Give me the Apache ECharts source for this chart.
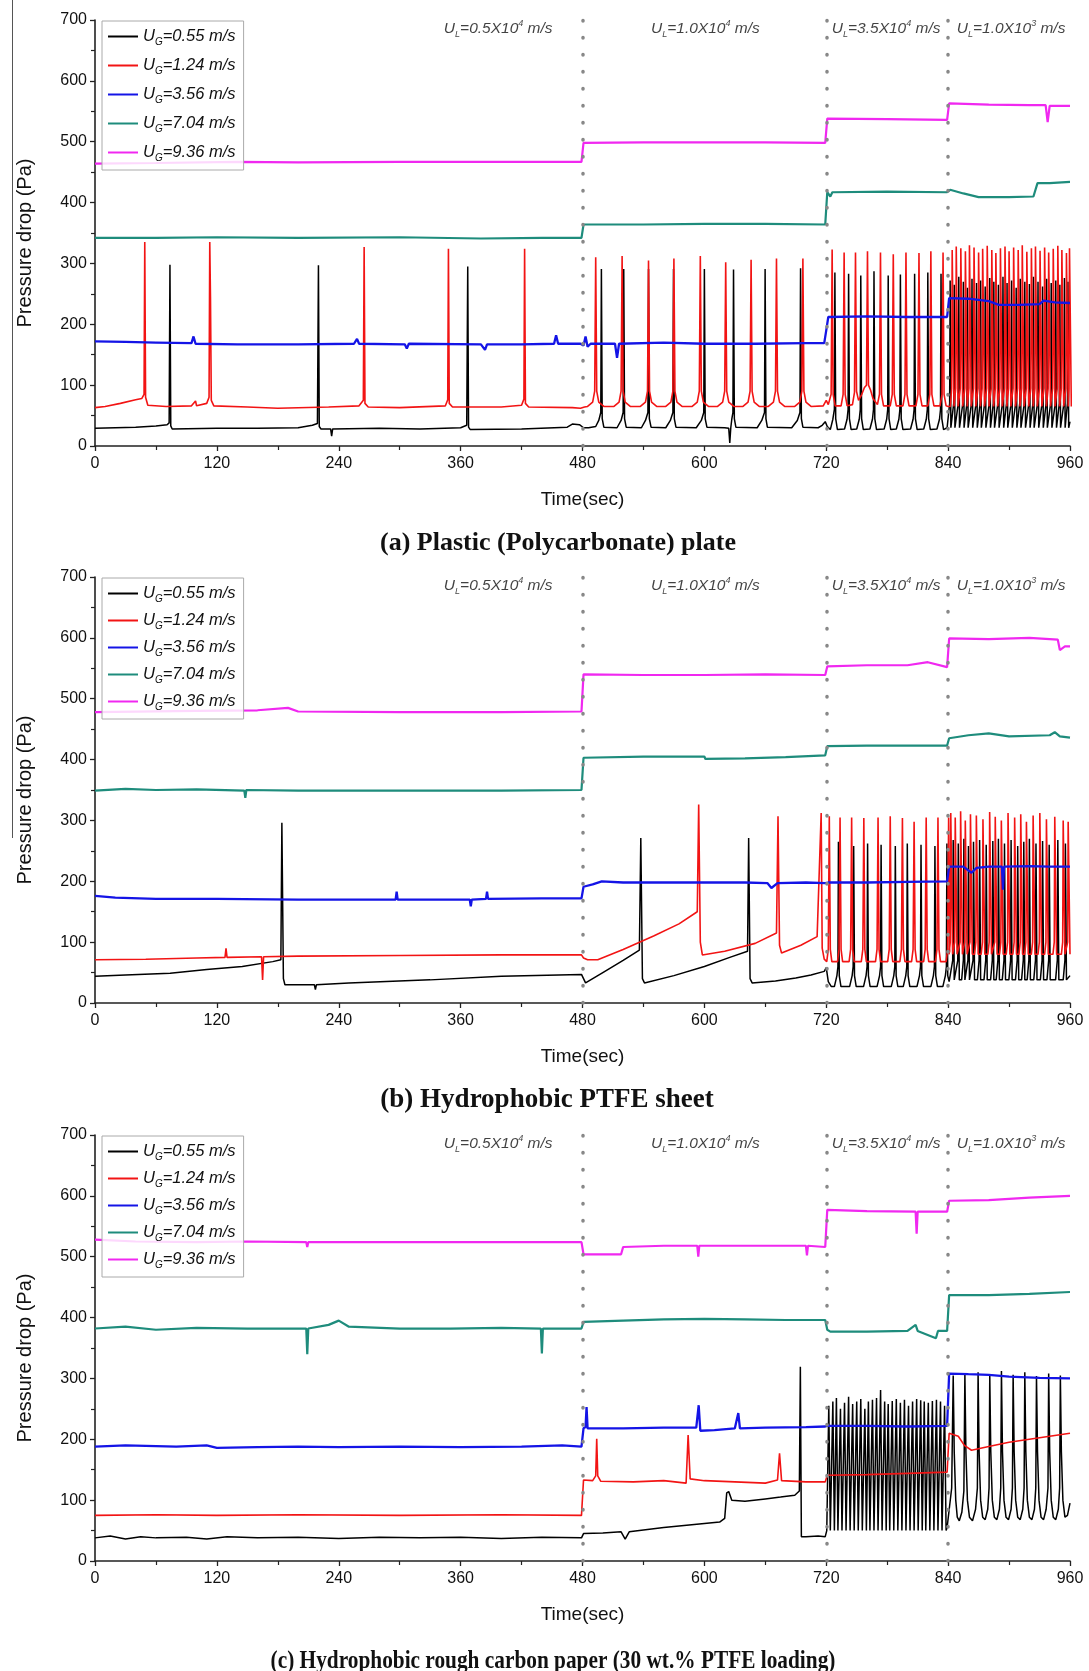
<!DOCTYPE html>
<html><head><meta charset="utf-8">
<script src="https://cdn.jsdelivr.net/npm/echarts/dist/echarts.min.js"></script>
<style>html,body{margin:0;padding:0;background:#fff}#c{width:1089px;height:1671px}</style>
</head><body><div id="c"></div><script>
// ---------------- DATA ----------------
const seriesNames = ['UG=0.55 m/s','UG=1.24 m/s','UG=3.56 m/s','UG=7.04 m/s','UG=9.36 m/s'];
const liquidSwitchTimes = [480, 720, 840];
const liquidMantissa = ['0.5','1.0','3.5','1.0'];
const liquidExponent = ['4','4','4','3'];
const panelTitles = ['(a) Plastic (Polycarbonate) plate','(b) Hydrophobic PTFE sheet','(c) Hydrophobic rough carbon paper (30 wt.% PTFE loading)'];

// ---- Panel (a) ----
const aBlackPts = [[0,29],[20,30],[40,31],[60,33],[71,35],[73,38],[73.8,298],[74.6,33],[76,28],[120,29],[160,29],[200,30],[214,34],[219,37],[220,297],[220.8,32],[222.5,28],[232,28],[233,16],[234,28],[280,29],[320,28],[360,30],[366,34],[367,295],[367.8,31],[369.5,27],[420,28],[465,31],[470,36],[477,35],[481,30],
[486,30],[493,32],[496,42],[498,55],[498.6,291],[499.4,45],[501,31],
[514,30],[518,42],[520,55],[520.6,291],[521.4,45],[523,31],
[538,30],[542,42],[544.4,55],[545,291],[545.8,45],[547.5,31],
[562,30],[566.5,42],[569,55],[569.6,291],[570.4,45],[572,31],
[592,30],[597,42],[599.4,55],[600,291],[600.8,45],[602.5,31],
[620,30],[624,29],[625,5],[626,30],[627,44],[628.1,55],[628.7,290],[629.5,45],[631,31],
[652,30],[656.5,42],[659.2,55],[659.8,291],[660.6,45],[662,31],
[686,30],[691.5,42],[694.1,55],[694.7,292],[695.5,45],[697,31],
[712,30],[716,34],[719,40],[721,32],
[724,27],[726.5,44],[728,60],[728.5,285],[729.3,45],[731,27],
[738,28],[740.5,44],[741.5,60],[742,283],[742.8,45],[744.5,27],
[750,28],[752.5,44],[753.5,60],[754,280],[754.8,45],[756.5,27],
[763,28],[765.5,44],[766.5,60],[767,287],[767.8,45],[769.5,27],
[777,28],[779.5,44],[780.5,60],[781,280],[781.8,45],[783.5,27],
[789,28],[791.5,44],[792.5,60],[793,282],[793.8,45],[795.5,27],
[803,28],[805.5,44],[806.5,60],[807,283],[807.8,45],[809.5,27],
[816,28],[818.5,44],[819.5,60],[820,285],[820.8,45],[822.5,27],
[829,28],[831.5,44],[832.5,60],[833,283],[833.8,45],[835.5,27],[839,30]];
const aBlackTrainT = [842,846,850.5,855,859,863.5,868,872,876.5,881,885,889.5,894,898,902.5,907,911,915.5,920,924,928.5,933,937,941.5,946,950,954.5,958];
const aBlackTrainPk = [272,265,278,270,260,275,268,272,262,276,270,265,278,268,272,260,275,270,266,278,270,262,275,268,272,265,276,270];
const aRedPts = [[0,63],[10,65],[25,70],[40,76],[46,78],[48.3,85],[49,335],[49.8,80],[52,67],[70,65],[95,66],[99,74],[100,66],[110,70],[112.3,80],[113,335],[113.7,245],[114.5,75],[117,66],[150,64],[180,62],[230,64],[260,66],[264.2,75],[265,327],[265.8,70],[269,64],[300,63],[345,66],[347.3,76],[348,324],[348.8,70],[352,64],[400,64],[420,67],[422.3,77],[423,324],[423.8,70],[427,64],[470,63],[478,62],[482,64],
[485,65],[490,72],[492,90],[493,310],[494,90],[496,72],[501,65],
[511,65],[516,72],[518,90],[519,312],[520,90],[522,72],[527,65],
[537,65],[542,72],[544,90],[545,305],[546,90],[548,72],[553,65],
[562,65],[567,72],[569,90],[570,308],[571,90],[573,72],[578,65],
[588,65],[593,72],[595,90],[596,312],[597,90],[599,72],[604,65],
[613,65],[618,72],[620,90],[621,302],[622,90],[624,72],[629,65],
[638,65],[643,72],[645,90],[646,306],[647,90],[649,72],[654,65],
[663,65],[668,72],[670,90],[671,308],[672,90],[674,72],[679,65],
[689,65],[694,72],[696,90],[697,308],[698,90],[700,72],[705,65],
[717,66],[720,75],[722,68],
[722.8,66],[724.8,85],[725.8,323],[726.8,85],[728.8,66],
[734.6,66],[736.6,85],[737.6,318],[738.6,85],[740.6,66],
[745.8,68],[747.8,88],[748.8,318],[749.8,90],[751.8,75],
[755,85],[757.6,96],[759.6,100],[760.6,320],[761.6,100],[763.6,92],[766,78],
[770.4,68],[772.4,85],[773.4,318],[774.4,85],[776.4,66],
[783,66],[785,85],[786,315],[787,85],[789,66],
[795.5,66],[797.5,85],[798.5,318],[799.5,85],[801.5,66],
[808.3,66],[810.3,85],[811.3,317],[812.3,85],[814.3,66],
[820,66],[822,85],[823,320],[824,85],[826,66],
[832,66],[834,85],[835,318],[836,85],[838,66],[840,65]];
const aRedTrainT = [844,848,852.5,857,861,865.5,870,874,878.5,883,887,891.5,896,900,904.5,909,913,917.5,922,926,930.5,935,939,943.5,948,952,956.5,959.5];
const aRedTrainPk = [322,328,325,320,330,326,318,324,329,322,317,325,328,320,326,322,330,319,325,328,321,326,318,324,329,322,317,325];
const aBlue = [[0,172],[30,171],[60,170],[95,169],[97,180],[99,168],[140,167],[200,167],[255,168],[258,176],[260,168],[305,167],[307,160],[309,168],[380,167],[384,158],[386,167],[420,167],[452,168],[454,182],[456,168],[478,168],[481,165],[483,180],[485,163],[488,168],[512,168],[514,145],[516,168],[560,170],[600,168],[650,168],[700,169],[718,169],[720,190],[722,212],[760,213],[800,212],[839,212],[841,243],[860,242],[880,238],[890,232],[910,232],[930,233],[934,239],[945,236],[960,235]];
const aTeal = [[0,342],[60,342],[120,343],[200,342],[300,343],[380,341],[440,342],[479,342],[481,364],[540,364],[600,365],[660,365],[719,364],[721,417],[724,410],[726,417],[780,418],[839,417],[842,421],[855,415],[870,409],[900,409],[924,410],[928,432],[940,432],[960,434]];
const aMagenta = [[0,464],[60,465],[140,467],[200,466],[300,467],[400,467],[479,467],[481,498],[540,499],[600,499],[660,499],[719,498],[721,538],[780,537],[839,536],[841,563],[880,561],[920,560],[936,560],[938,532],[940,559],[960,559]];

// ---- Panel (b) ----
const bBlackPts = [[0,44],[30,46],[74,49],[110,55],[145,60],[175,68],[183,71],[184,296],[185.5,40],[187,30],[216,30],[217,22],[218,30],[250,33],[330,38],[400,44],[479,47],[481,40],[483,33],[500,50],[520,70],[536,87],[537.4,271],[539,40],[541,33],[570,45],[600,60],[625,75],[642.5,85],[643.6,271],[645,40],[647,33],[670,36],[690,41],[705,46],[718,52],[720,58],[722,35],[725,27],
[728,27],[730.5,45],[731.5,60],[732,265],[732.8,45],[734.5,27],
[743,27],[745.5,45],[746.5,60],[747,258],[747.8,45],[749.5,27],
[756.7,27],[759.2,45],[760.2,60],[760.7,262],[761.5,45],[763.2,27],
[770,27],[772.5,45],[773.5,60],[774,260],[774.8,45],[776.5,27],
[784,27],[786.5,45],[787.5,60],[788,258],[788.8,45],[790.5,27],
[795.8,27],[798.3,45],[799.3,60],[799.8,262],[800.6,45],[802.3,27],
[809.3,27],[811.8,45],[812.8,60],[813.3,260],[814.1,45],[815.8,27],
[823,27],[825.5,45],[826.5,60],[827,258],[827.8,45],[829.5,27],
[834.8,27],[837.3,45],[838.3,60],[838.8,262],[839.6,45],[841,35]];
const bBlackTrainT = [845,850,855.5,860,865,871,877.5,884,889.5,895.5,902,908.5,914.5,920,926.5,933,939.5,948,955.5];
const bBlackTrainPk = [268,262,270,258,265,268,260,266,270,262,268,258,265,270,262,266,260,268,262];
const bRedPts = [[0,71],[50,72],[100,74],[128,75],[129,90],[130,75],[164,76],[165,38],[166,76],[200,77],[300,78],[400,79],[479,79],[481,74],[485,71],[495,71],[520,88],[550,110],[575,130],[593,150],[594.4,326],[596,100],[598,79],[620,85],[650,98],[671,115],[672.5,307],[674,95],[676,82],[695,95],[711,109],[715,312],[716,90],[718,72],[720.5,68],
[722,88],[723,307],[724,88],[725.5,68],
[731.1,68],[732.6,88],[733.6,305],[734.6,88],[736.1,68],
[742.5,68],[744,88],[745,305],[746,88],[747.5,68],
[754.5,68],[756,88],[757,304],[758,88],[759.5,68],
[768.5,68],[770,88],[771,305],[772,88],[773.5,68],
[780.5,68],[782,88],[783,307],[784,88],[785.5,68],
[792.5,68],[794,88],[795,304],[796,88],[797.5,68],
[804,68],[805.5,88],[806.5,298],[807.5,88],[809,68],
[815.9,68],[817.4,88],[818.4,305],[819.4,88],[820.9,68],
[827.5,68],[829,88],[830,305],[831,88],[832.5,68],
[838,68],[839.5,88],[840.5,305],[841.5,85]];
const bRedTrainT = [842.6,847,852.3,856.9,862,867.8,874.3,880.9,886.4,892.4,899,905.5,911.5,917.1,923.7,930.3,936.8,945,953.3,958.2];
const bRedTrainPk = [312,305,315,300,310,308,302,314,306,300,312,305,310,298,308,312,302,306,300,298];
const bBlue = [[0,176],[20,173],[60,171],[120,171],[200,170],[296,170],[297,183],[298,170],[369,170],[370,159],[371,170],[385,171],[386,183],[387,171],[440,172],[479,172],[481,191],[490,195],[499,200],[520,198],[560,198],[600,198],[640,198],[662,197],[666,189],[672,197],[700,198],[719,197],[722,198],[760,198],[800,199],[839,200],[841,224],[855,224],[863,214],[868,222],[880,224],[893,224],[894,186],[895,224],[920,225],[940,224],[960,224]];
const bTeal = [[0,349],[30,352],[60,350],[100,351],[147,349],[148,337],[149,350],[200,349],[300,349],[400,349],[479,350],[481,403],[540,405],[600,405],[601,401],[640,402],[680,404],[719,407],[721,422],[760,423],[800,423],[839,423],[841,435],[860,440],[880,443],[900,438],[940,440],[945,445],[950,438],[960,436]];
const bMagenta = [[0,478],[100,480],[160,481],[190,485],[200,479],[300,478],[400,478],[479,479],[481,540],[540,539],[600,539],[660,540],[719,539],[721,553],[760,555],[800,555],[820,560],[839,552],[841,599],[880,598],[920,600],[948,597],[950,580],[955,586],[960,586]];

// ---- Panel (c) ----
const cBlackPts = [[0,38],[15,41],[30,36],[45,40],[60,38],[90,39],[110,36],[130,40],[160,38],[200,39],[240,37],[280,39],[320,38],[360,39],[400,37],[440,39],[479,38],[481,45],[500,46],[518,48],[522,36],[526,48],[560,55],[590,60],[615,64],[620,70],[622,112],[624,114],[627,100],[640,98],[660,102],[675,105],[689,108],[693.5,115],[694.5,319],[695.5,40],[700,40],[712,41],[719,40],[720.5,50]];
const cBlackTrainT = [722.5,726.5,730,734,738,742,746,750,754,758,761.5,765.5,769.5,773.5,777.5,781,785,789,793,797,801,805,809,813,816.5,820.5,824.5,828.5,832.5,836.5];
const cBlackTrainPk = [255,262,268,250,260,270,258,262,266,250,262,265,268,281,262,258,263,266,260,265,255,262,266,264,262,260,263,265,262,255];
const cBlackTail = [[839,55],[843.5,120],[845,305],[846,180],[847.5,100],[849,72],[851,66],[853.5,80],[855.5,115],[856.5,308],[857.5,180],[859,100],[861,72],[864,66],[867,85],[868.8,120],[869.5,310],[870.5,180],[872,100],[874,72],[876.5,68],[879,85],[880.3,120],[881,305],[882,180],[883.5,100],[885.5,72],[888,68],[890.5,85],[891.8,120],[892.5,312],[893.5,180],[895,100],[897,72],[899.5,68],[902,85],[903.3,120],[904,306],[905,180],[906.5,100],[908.5,72],[911,68],[913.5,85],[914.8,120],[915.5,310],[916.5,180],[918,100],[920,72],[922.5,68],[925,85],[926.3,120],[927,304],[928,180],[929.5,100],[931.5,72],[934,68],[936.5,85],[938.3,120],[939,308],[940,180],[941.5,100],[943.5,72],[946,68],[948.5,85],[949.8,120],[950.5,305],[951.5,180],[953,100],[955,72],[957.5,75],[960,95]];
const cRed = [[0,75],[60,76],[120,75],[200,76],[300,75],[400,76],[479,75],[481,133],[490,132],[493,140],[494,201],[495,140],[498,131],[530,130],[560,132],[582,128],[584,207],[586,135],[600,132],[630,130],[660,128],[672,133],[674,177],[676,132],[700,130],[719,130],[721,141],[760,142],[800,144],[839,146],[841,210],[850,205],[856,190],[863,182],[880,188],[900,195],[920,200],[940,205],[960,210]];
const cBlue = [[0,188],[30,190],[80,188],[110,190],[120,186],[160,187],[200,188],[240,187],[300,188],[360,187],[420,188],[460,190],[479,188],[481,218],[483,220],[484,253],[485,218],[520,218],[560,219],[592,219],[594.4,256],[596,214],[610,215],[630,218],[633.4,243],[635,218],[660,219],[700,220],[719,221],[721,222],[760,222],[800,221],[839,222],[841,308],[860,307],[880,306],[900,303],[930,301],[960,300]];
const cTeal = [[0,382],[30,385],[60,380],[100,383],[150,382],[208,382],[209,340],[210,382],[230,388],[240,395],[250,385],[300,382],[350,382],[400,383],[439,382],[440,341],[441,382],[479,382],[481,393],[520,395],[560,397],[600,398],[640,397],[680,396],[719,396],[721,380],[724,377],[760,377],[800,378],[808,388],[810,378],[828,366],[830,378],[839,378],[841,437],[880,437],[920,439],[960,442]];
const cMagenta = [[0,528],[40,525],[100,524],[150,525],[208,524],[209,516],[210,524],[300,524],[400,524],[479,524],[481,504],[518,504],[520,516],[560,518],[593,518],[594,500],[595,518],[640,518],[700,518],[701,502],[702,518],[719,516],[721,577],[760,575],[808,574],[809,538],[810,574],[839,574],[841,592],[880,593],[920,597],[960,600]];

// ---------------- BUILD ----------------
function spikeTrain(times, peaks, base, hump, pre, post) {
  const out = [];
  times.forEach((t, i) => {
    out.push([t - pre, base]);
    if (hump !== null) out.push([t - 0.5, hump]);
    out.push([t, peaks[i]]);
    out.push([t + post, base]);
  });
  return out;
}
const panels = [
  [aBlackPts.concat(spikeTrain(aBlackTrainT, aBlackTrainPk, 30, 70, 2.0, 0.7), [[960,40]]),
   aRedPts.concat(spikeTrain(aRedTrainT, aRedTrainPk, 65, 95, 1.8, 1.8)),
   aBlue, aTeal, aMagenta],
  [bBlackPts.concat(spikeTrain(bBlackTrainT, bBlackTrainPk, 38, 70, 2.2, 1.0), [[960,45]]),
   bRedPts.concat(spikeTrain(bRedTrainT, bRedTrainPk, 80, 100, 1.8, 1.8)),
   bBlue, bTeal, bMagenta],
  [cBlackPts.concat(spikeTrain(cBlackTrainT, cBlackTrainPk, 50, null, 1.5, 1.5), cBlackTail),
   cRed, cBlue, cTeal, cMagenta]
];

// ---------------- LAYOUT / STYLE ----------------
const colors = ['#000000', '#f21414', '#1414e6', '#1e8c7c', '#f028f0'];
const widths = [1.5, 1.6, 2.3, 2.2, 2.2];
const gridTops = [20, 577, 1135];
const gridH = 426;
const legendGaps = [10, 8, 8];
const titleLayout = [
  { x: 558, y: 543, size: 26, sx: 1 },
  { x: 547, y: 1100, size: 27, sx: 1 },
  { x: 553, y: 1661, size: 26, sx: 0.82 }
];
const labelTimes = [397, 601, 779, 902];
const narrow = "'Liberation Sans Narrow','Liberation Sans',Arial,sans-serif";

const grids = [], xAxes = [], yAxes = [], series = [], legends = [], graphics = [];
gridTops.forEach((top, p) => {
  grids.push({ left: 95, right: 19, top: top, height: gridH });
  xAxes.push({
    gridIndex: p, type: 'value', min: 0, max: 960, interval: 120,
    name: 'Time(sec)', nameLocation: 'middle', nameGap: 44,
    nameTextStyle: { fontFamily: narrow, fontSize: 19, color: '#111' },
    axisLine: { show: true, onZero: false, lineStyle: { color: '#222', width: 1.6 } },
    axisTick: { show: true, length: 5, lineStyle: { color: '#222', width: 1.3 } },
    minorTick: { show: true, splitNumber: 2, length: 4, lineStyle: { color: '#222', width: 1.2 } },
    axisLabel: { fontFamily: narrow, fontSize: 16, color: '#111', margin: 10 },
    splitLine: { show: false }
  });
  yAxes.push({
    gridIndex: p, type: 'value', min: 0, max: 700, interval: 100,
    name: 'Pressure drop (Pa)', nameLocation: 'middle', nameGap: 60, nameRotate: 90,
    nameTextStyle: { fontFamily: "'Liberation Sans',Arial,sans-serif", fontSize: 20, color: '#111', padding: [0, 20, 0, 0] },
    axisLine: { show: true, lineStyle: { color: '#222', width: 1.6 } },
    axisTick: { show: true, length: 5, lineStyle: { color: '#222', width: 1.3 } },
    minorTick: { show: true, splitNumber: 2, length: 4, lineStyle: { color: '#222', width: 1.2 } },
    axisLabel: { fontFamily: narrow, fontSize: 16, color: '#111', margin: 8 },
    splitLine: { show: false }
  });
  panels[p].forEach((d, k) => {
    const s = {
      name: seriesNames[k], type: 'line', xAxisIndex: p, yAxisIndex: p,
      data: d, symbol: 'none', showSymbol: false, animation: false,
      lineStyle: { color: colors[k], width: widths[k] }, itemStyle: { color: colors[k] },
      z: 2 + k * 0.1
    };
    if (k === 0) {
      s.markLine = {
        silent: true, symbol: ['none', 'none'], animation: false,
        label: { show: false },
        lineStyle: { color: '#888', type: [0.5, 16.5], width: 3.5, cap: 'round' },
        data: liquidSwitchTimes.map(t => ({ xAxis: t }))
      };
    }
    series.push(s);
  });
  series.push({
    type: 'scatter', xAxisIndex: p, yAxisIndex: p, silent: true, animation: false,
    symbolSize: 0, data: labelTimes.map(t => [t, 686]),
    label: {
      show: true, position: 'inside', color: '#111',
      formatter: (prm) => '{i|U}{s|L}{i|=' + liquidMantissa[prm.dataIndex] + 'X10}{u|' + liquidExponent[prm.dataIndex] + '}{i| m/s}',
      rich: {
        i: { fontFamily: narrow, fontStyle: 'italic', fontSize: 15.5, lineHeight: 20, verticalAlign: 'middle', color: '#111' },
        s: { fontFamily: narrow, fontStyle: 'italic', fontSize: 9, lineHeight: 9, verticalAlign: 'bottom', color: '#111' },
        u: { fontFamily: narrow, fontStyle: 'italic', fontSize: 9, lineHeight: 9, verticalAlign: 'top', color: '#111' }
      }
    }
  });
  legends.push({
    data: seriesNames, orient: 'vertical', left: 102, top: top + 1,
    padding: [7, 8, 7, 6], itemGap: legendGaps[p], itemWidth: 30, itemHeight: 2, icon: 'rect',
    borderColor: '#aaa', borderWidth: 1, backgroundColor: 'rgba(255,255,255,0.82)',
    selectedMode: false,
    formatter: (name) => '{i|U}{s|G}{i|=' + name.split('=')[1] + '}',
    textStyle: {
      rich: {
        i: { fontFamily: narrow, fontStyle: 'italic', fontSize: 16.5, lineHeight: 21, verticalAlign: 'middle', color: '#111' },
        s: { fontFamily: narrow, fontStyle: 'italic', fontSize: 10, lineHeight: 10, verticalAlign: 'bottom', color: '#111' }
      }
    }
  });
  const tl = titleLayout[p];
  graphics.push({
    type: 'text', x: tl.x, y: tl.y, scaleX: tl.sx,
    style: { text: panelTitles[p], font: 'bold ' + tl.size + "px 'Liberation Serif','Times New Roman',serif", fill: '#111',
             align: 'center', verticalAlign: 'middle', textAlign: 'center', textVerticalAlign: 'middle' }
  });
});
graphics.push({ type: 'line', shape: { x1: 12.5, y1: 0, x2: 12.5, y2: 838 }, style: { stroke: '#555', lineWidth: 1 } });

const chart = echarts.init(document.getElementById('c'), null, { renderer: 'canvas' });
chart.setOption({
  backgroundColor: '#fff', animation: false,
  grid: grids, xAxis: xAxes, yAxis: yAxes, legend: legends, series: series, graphic: graphics
});
</script></body></html>
